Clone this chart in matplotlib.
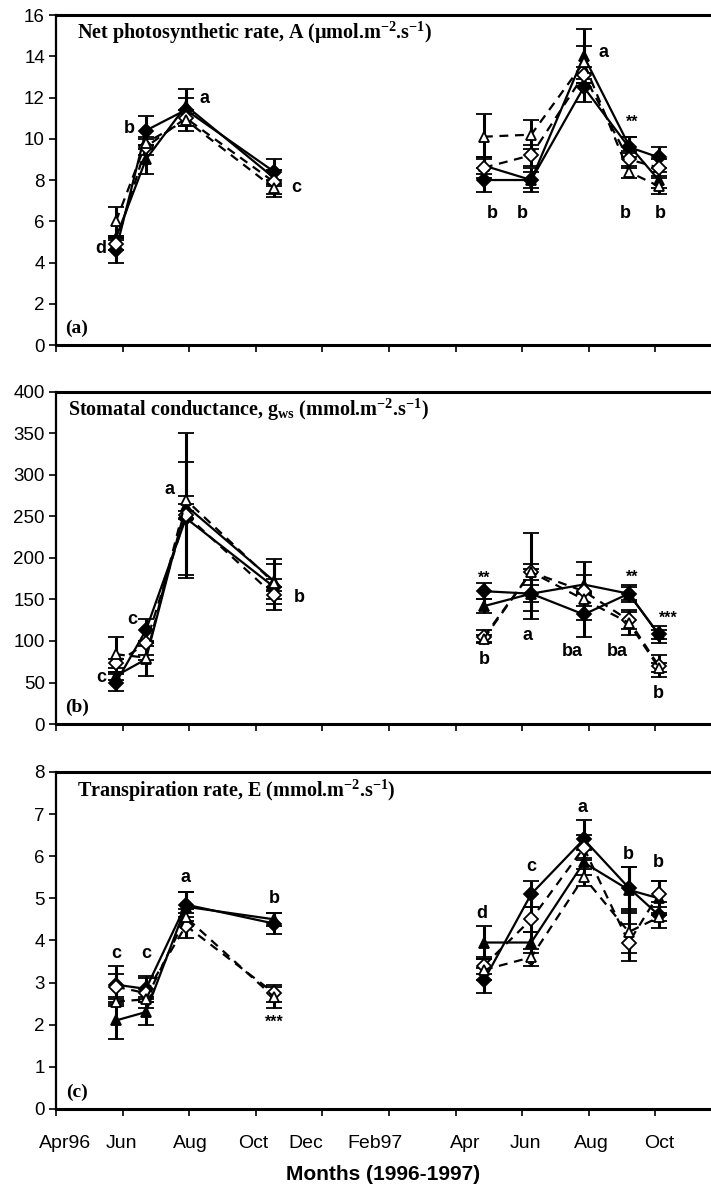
import matplotlib
matplotlib.use("Agg")
import matplotlib.pyplot as plt

plt.rcParams['font.family'] = ['Liberation Sans', 'DejaVu Sans']
plt.rcParams['mathtext.fontset'] = 'custom'
plt.rcParams['mathtext.rm'] = 'Liberation Serif:bold'
plt.rcParams['mathtext.it'] = 'Liberation Serif:bold'
plt.rcParams['mathtext.bf'] = 'Liberation Serif:bold'

# sampling dates, months after 1 April 1996
x_1996 = [1.8, 2.7, 3.9, 6.55]
x_1997 = [12.85, 14.27, 15.85, 17.2, 18.1]

tick_pos = [0, 2, 4, 6, 8, 10, 12, 14, 16, 18]
label_pos = [0.27, 1.95, 4.05, 5.92, 7.51, 9.58, 12.28, 14.11, 16.07, 18.11]
month_labels = ['Apr96', 'Jun', 'Aug', 'Oct', 'Dec', 'Feb97', 'Apr', 'Jun', 'Aug', 'Oct']

# (a) net photosynthetic rate
a_s1_96 = [4.6, 10.4, 11.4, 8.4];  a_s1_96_err = [0.6, 0.7, 1.0, 0.6]
a_s2_96 = [5.2, 9.0, 11.6, 8.1];   a_s2_96_err = [0.1, 0.7, 0.4, 0.4]
a_s3_96 = [4.9, 9.6, 11.0, 7.9];   a_s3_96_err = [0.3, 0.4, 0.4, 0.6]
a_s4_96 = [6.0, 9.8, 10.9, 7.6];   a_s4_96_err = [0.7, 0.3, 0.3, 0.4]
a_s1_97 = [8.0, 8.0, 12.5, 9.6, 9.1];   a_s1_97_err = [0.6, 0.4, 0.7, 0.5, 0.5]
a_s2_97 = [8.7, 8.0, 14.0, 9.7, 8.0];   a_s2_97_err = [0.4, 0.6, 1.3, 0.4, 0.4]
a_s3_97 = [8.6, 9.2, 13.1, 9.0, 8.6];   a_s3_97_err = [0.5, 0.5, 0.4, 0.4, 0.4]
a_s4_97 = [10.1, 10.2, 13.7, 8.4, 7.7]; a_s4_97_err = [1.1, 0.7, 0.8, 0.3, 0.4]
a_marks = [(1.35, 4.7, 'd'), (2.2, 10.5, 'b'), (4.45, 11.95, 'a'), (7.2, 7.65, 'c'),
           (13.1, 6.4, 'b'), (14.0, 6.4, 'b'), (16.45, 14.2, 'a'), (17.1, 6.4, 'b'),
           (18.15, 6.4, 'b'), (17.3, 10.8, '**')]

# (b) stomatal conductance
b_s1_96 = [50, 113, 248, 165];  b_s1_96_err = [10, 14, 68, 28]
b_s2_96 = [58, 78, 263, 172];   b_s2_96_err = [5, 20, 87, 27]
b_s3_96 = [73, 97, 252, 155];   b_s3_96_err = [5, 3, 5, 5]
b_s4_96 = [84, 80, 270, 170];   b_s4_96_err = [21, 3, 5, 5]
b_s1_97 = [160, 157, 132, 157, 108]; b_s1_97_err = [10, 30, 27, 10, 10]
b_s2_97 = [142, 157, 168, 157, 108]; b_s2_97_err = [8, 10, 11, 8, 5]
b_s3_97 = [105, 183, 160, 125, 70];  b_s3_97_err = [8, 47, 35, 10, 13]
b_s4_97 = [103, 183, 150, 122, 68];  b_s4_97_err = [4, 10, 8, 15, 5]
b_marks = [(1.35, 56, 'c'), (2.3, 126, 'c'), (3.4, 283, 'a'), (7.3, 152, 'b'),
           (12.85, 78, 'b'), (14.15, 107, 'a'), (15.5, 87, 'ba'), (16.85, 87, 'ba'),
           (18.1, 37, 'b'), (12.85, 176, '**'), (17.3, 177, '**'), (18.4, 127, '***')]

# (c) transpiration rate
c_s1_96 = [2.95, 2.85, 4.85, 4.4]; c_s1_96_err = [0.45, 0.3, 0.3, 0.25]
c_s2_96 = [2.1, 2.3, 4.8, 4.5];    c_s2_96_err = [0.45, 0.3, 0.35, 0.15]
c_s3_96 = [2.9, 2.75, 4.35, 2.75]; c_s3_96_err = [0.3, 0.35, 0.3, 0.2]
c_s4_96 = [2.55, 2.6, 4.55, 2.65]; c_s4_96_err = [0.1, 0.05, 0.2, 0.25]
c_s1_97 = [3.05, 5.1, 6.4, 5.25, 4.6];  c_s1_97_err = [0.3, 0.3, 0.45, 0.5, 0.3]
c_s2_97 = [3.95, 3.95, 5.85, 5.2, 5.0]; c_s2_97_err = [0.4, 0.25, 0.3, 0.55, 0.4]
c_s3_97 = [3.4, 4.5, 6.2, 3.95, 5.1];   c_s3_97_err = [0.2, 0.3, 0.3, 0.45, 0.3]
c_s4_97 = [3.3, 3.6, 5.5, 4.2, 4.55];   c_s4_97_err = [0.25, 0.2, 0.2, 0.5, 0.1]
c_marks = [(1.8, 3.7, 'c'), (2.7, 3.7, 'c'), (3.9, 5.5, 'a'), (6.55, 5.0, 'b'),
           (12.8, 4.65, 'd'), (14.27, 5.75, 'c'), (15.8, 7.15, 'a'), (17.2, 6.05, 'b'),
           (18.1, 5.85, 'b'), (6.55, 2.05, '***'), (14.27, 3.35, '*')]

styles = [dict(marker='D', mfc='black', ls='-'),
          dict(marker='^', mfc='black', ls='-'),
          dict(marker='D', mfc='white', ls=(0, (4, 3))),
          dict(marker='^', mfc='white', ls=(0, (4, 3)))]


def draw_panel(ax, groups, ymax, ystep, title, letter, title_x, marks):
    for xs, series in groups:
        for (vals, errs), st in zip(series, styles):
            ax.errorbar(xs, vals, yerr=errs, color='black', lw=1.6, ls=st['ls'],
                        marker=st['marker'], mfc=st['mfc'], mec='black', ms=7, mew=1.3,
                        elinewidth=2.2, capsize=6, capthick=2.2)
    for x, y, t in marks:
        fs = 13 if '*' not in t else 11.5
        ax.text(x, y, t, ha='center', va='center', fontsize=fs, fontweight='bold')
    ax.set_xlim(0, 19.67)
    ax.set_ylim(0, ymax)
    ax.set_yticks(range(0, ymax + 1, ystep))
    ax.set_xticks(tick_pos)
    ax.spines['right'].set_visible(False)
    ax.spines['top'].set_linewidth(2.2)
    ax.spines['bottom'].set_linewidth(2.2)
    ax.spines['left'].set_linewidth(1.6)
    ax.tick_params(axis='y', length=5, width=1.2, labelsize=13.5, pad=3)
    ax.tick_params(axis='x', length=5, width=1.2, labelbottom=False)
    ax.text(title_x, 0.945, title, transform=ax.transAxes, ha='left', va='center',
            fontsize=14.5, fontfamily='Liberation Serif', fontweight='bold')
    ax.text(0.032, 0.05, letter, transform=ax.transAxes, ha='center', va='center',
            fontsize=14, fontfamily='Liberation Serif', fontweight='bold')


fig = plt.figure(figsize=(7.11, 11.91), dpi=100)
ax_a = fig.add_axes([0.0788, 0.7103, 0.9212, 0.2771])
ax_b = fig.add_axes([0.0788, 0.3921, 0.9212, 0.2788])
ax_c = fig.add_axes([0.0788, 0.0689, 0.9212, 0.2830])

draw_panel(ax_a,
           [(x_1996, [(a_s1_96, a_s1_96_err), (a_s2_96, a_s2_96_err), (a_s3_96, a_s3_96_err), (a_s4_96, a_s4_96_err)]),
            (x_1997, [(a_s1_97, a_s1_97_err), (a_s2_97, a_s2_97_err), (a_s3_97, a_s3_97_err), (a_s4_97, a_s4_97_err)])],
           16, 2, r'Net photosynthetic rate, A ($\mu$mol.m$^{-2}$.s$^{-1}$)', '(a)', 0.032, a_marks)
draw_panel(ax_b,
           [(x_1996, [(b_s1_96, b_s1_96_err), (b_s2_96, b_s2_96_err), (b_s3_96, b_s3_96_err), (b_s4_96, b_s4_96_err)]),
            (x_1997, [(b_s1_97, b_s1_97_err), (b_s2_97, b_s2_97_err), (b_s3_97, b_s3_97_err), (b_s4_97, b_s4_97_err)])],
           400, 50, r'Stomatal conductance, g$_{\mathrm{ws}}$ (mmol.m$^{-2}$.s$^{-1}$)', '(b)', 0.018, b_marks)
draw_panel(ax_c,
           [(x_1996, [(c_s1_96, c_s1_96_err), (c_s2_96, c_s2_96_err), (c_s3_96, c_s3_96_err), (c_s4_96, c_s4_96_err)]),
            (x_1997, [(c_s1_97, c_s1_97_err), (c_s2_97, c_s2_97_err), (c_s3_97, c_s3_97_err), (c_s4_97, c_s4_97_err)])],
           8, 1, r'Transpiration rate, E (mmol.m$^{-2}$.s$^{-1}$)', '(c)', 0.032, c_marks)

# month labels sit a little off the tick marks, as in the original
ax_c.set_xticks(label_pos, minor=True)
ax_c.set_xticklabels(month_labels, minor=True)
ax_c.tick_params(axis='x', which='minor', length=0, labelsize=14, pad=19)
ax_c.set_xlabel('Months (1996-1997)', fontsize=15, fontweight='bold', labelpad=9)

fig.savefig('out.png', dpi=100)
